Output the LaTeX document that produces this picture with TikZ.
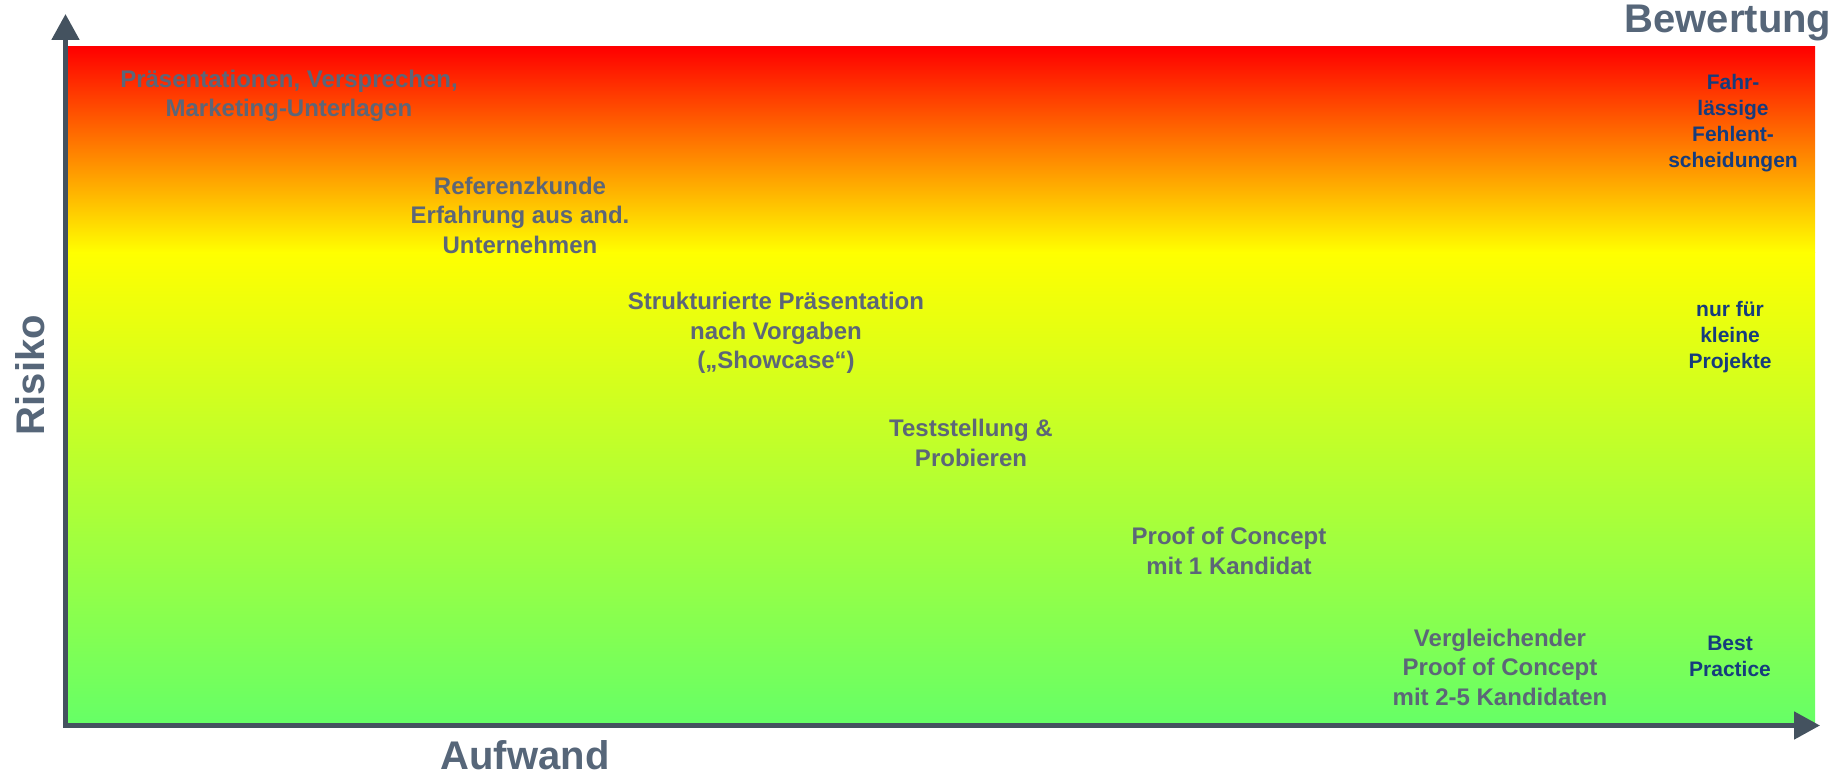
\documentclass[tikz,border=0pt]{standalone}
\usepackage{fontspec}
\setmainfont{Liberation Sans}
\usetikzlibrary{arrows.meta}
\definecolor{riskred}{RGB}{255,0,0}
\definecolor{riskyellow}{RGB}{255,255,0}
\definecolor{riskgreen}{RGB}{102,255,102}
\definecolor{itemgrey}{RGB}{92,102,120}
\definecolor{axisgrey}{RGB}{86,102,121}
\definecolor{axisline}{RGB}{68,82,95}
\definecolor{ratingblue}{RGB}{22,60,125}
\tikzset{
  item/.style={align=center, text=itemgrey, font=\bfseries\fontsize{24}{29.5}\selectfont, inner sep=0pt},
  rating/.style={align=center, text=ratingblue, font=\bfseries\fontsize{21}{26}\selectfont, inner sep=0pt},
  axislabel/.style={text=axisgrey, font=\bfseries\fontsize{40}{48}\selectfont, inner sep=0pt},
  axisstyle/.style={draw=axisline, line width=5pt, line join=miter,
    {Triangle[width=27pt,length=26pt,fill=axisline]}-{Triangle[width=27pt,length=26pt,fill=axisline]}}
}
\begin{document}
\begin{tikzpicture}[x=1pt,y=-1pt]
\useasboundingbox (0,0) rectangle (1841,773);
% background gradient
\shade[top color=riskred, bottom color=riskyellow] (68,47) rectangle (1815,252.5);
\shade[top color=riskyellow, bottom color=riskgreen] (68,252) rectangle (1815,723);
% axes
\coordinate (O) at (65.5,725.5);
\coordinate (Ytip) at (65.5,14);
\coordinate (Xtip) at (1820,725.5);
\draw[axisstyle] (Ytip) -- (O) -- (Xtip);
% axis labels
\node[axislabel] (risiko) at (30,375) {\rotatebox{90}{Risiko}};
\node[axislabel, anchor=base] (aufwand) at (525,769) {Aufwand};
\node[axislabel] (bewertung) at (1728,23) {Bewertung};
% items
\node[item] (praes) at (289,96) {Präsentationen, Versprechen,\\Marketing-Unterlagen};
\node[item] (referenz) at (520,215) {Referenzkunde\\Erfahrung aus and.\\Unternehmen};
\node[item] (struktur) at (776,333) {Strukturierte Präsentation\\nach Vorgaben\\(„Showcase“)};
\node[item] (test) at (971,443) {Teststellung \&\\Probieren};
\node[item] (poc) at (1229,551) {Proof of Concept\\mit 1 Kandidat};
\node[item] (vpoc) at (1500,667) {Vergleichender\\Proof of Concept\\mit 2-5 Kandidaten};
% ratings
\node[rating] (fahr) at (1733,123) {Fahr-\\lässige\\Fehlent-\\scheidungen};
\node[rating] (klein) at (1730,337) {nur für\\kleine\\Projekte};
\node[rating] (best) at (1730,656) {Best\\Practice};
\end{tikzpicture}
\end{document}
